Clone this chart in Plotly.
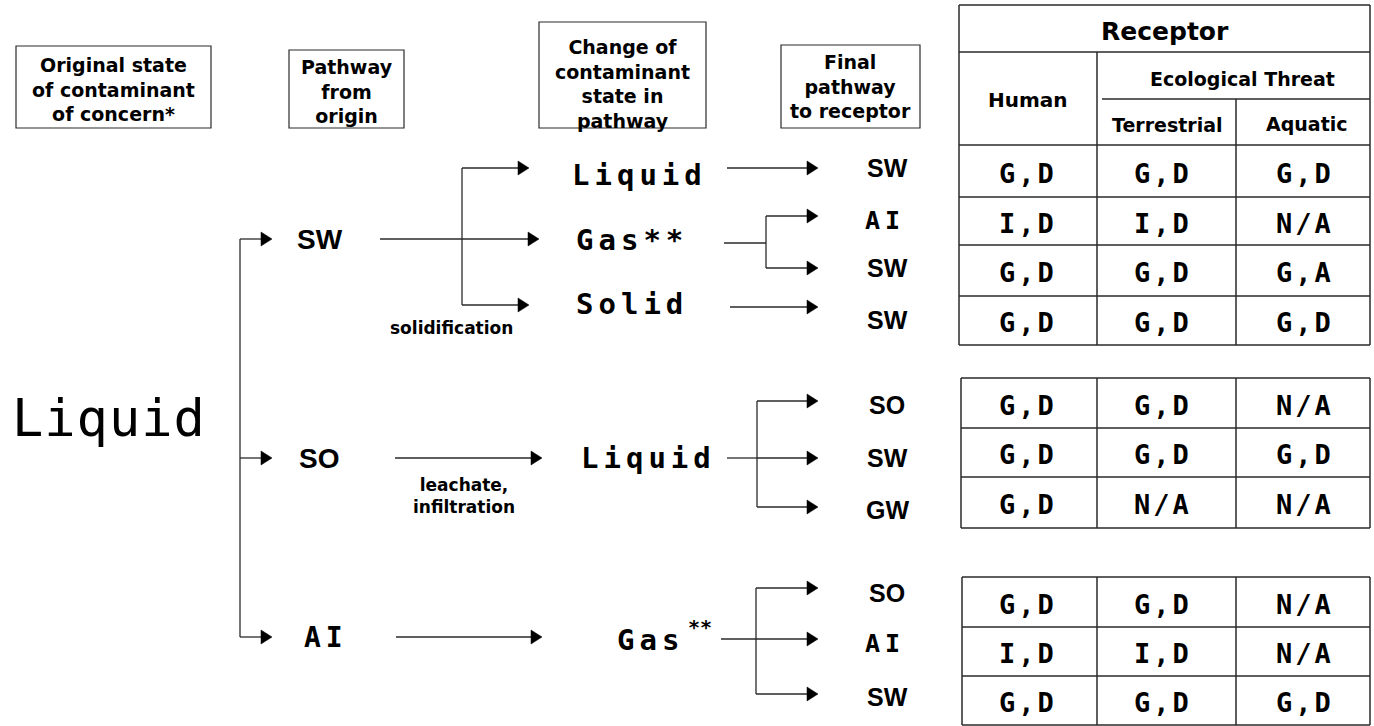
import plotly.graph_objects as go

# ---------------- data ----------------
ORIGIN_STATE = "Liquid"
PATHWAYS = ["SW", "SO", "AI"]
STATE_CHANGES = [["Liquid", "Gas**", "Solid"], ["Liquid"], ["Gas"]]
STATE_SUPERSCRIPT = [[None, None, None], [None], ["**"]]
FINAL_PATHWAYS = [[["SW"], ["AI", "SW"], ["SW"]], [["SO", "SW", "GW"]], [["SO", "AI", "SW"]]]
PROCESS_NOTES = [["solidification"], ["leachate,", "infiltration"], []]

HEADER_BOXES = [
    ["Original state", "of contaminant", "of concern*"],
    ["Pathway", "from", "origin"],
    ["Change of", "contaminant", "state in", "pathway"],
    ["Final", "pathway", "to receptor"],
]
RECEPTOR_TITLE = "Receptor"
RECEPTOR_HUMAN = "Human"
RECEPTOR_ECO = "Ecological Threat"
RECEPTOR_SUB = ["Terrestrial", "Aquatic"]

HUMAN = ["G,D", "I,D", "G,D", "G,D", "G,D", "G,D", "G,D", "G,D", "I,D", "G,D"]
TERRESTRIAL = ["G,D", "I,D", "G,D", "G,D", "G,D", "G,D", "N/A", "G,D", "I,D", "G,D"]
AQUATIC = ["G,D", "N/A", "G,A", "G,D", "N/A", "G,D", "N/A", "N/A", "N/A", "G,D"]

# ---------------- layout geometry (pixels) ----------------
W, H = 1374, 726
LC = "#2a2a2a"
LW = 1.3
MONO = "DejaVu Sans Mono"
HEAVY = "DejaVu Sans"
SANS = "Liberation Sans"

BOX_RECTS = [(16, 211, 46, 128), (289, 404, 50, 128), (539, 706, 22, 128), (781, 920, 45, 128)]
BOX_TEXT_Y = [89, 91, 84, 86]

ROOT_XY = (109, 418)
TRUNK_X = 240
PW_TIP = 272
PW_Y = [239, 458, 637]
PW_LABEL_X = [320, 319, 326]

# stage 2 geometry per pathway
S2_LINE = [(380, 539), (395, 542), (396, 542)]
S2_BRANCH_X = 462
S2_BRANCH_Y = [168, 305]
S2_BRANCH_TIP = 529
S2_LABEL_XY = [[(639, 175), (632, 240), (632, 304)], [(648, 458)], [(650, 640)]]
SUP_OFFSET = (50, -13)
NOTE_XY = [(451, 328), (464, 496), None]

# stage 3 geometry: (start x, y, fork x or None, target ys)
S3 = [
    [(727, 168, None, [168]), (724, 243, 766, [216, 268]), (730, 307, None, [307])],
    [(727, 458, 757, [401, 458, 507])],
    [(721, 639, 756, [588, 639, 694])],
]
S3_TIP = 818
FINAL_LABEL_X = 887
FINAL_LABEL_Y = [[[168], [220, 268], [320]], [[405, 458, 510]], [[593, 643, 697]]]

COL_X = [959, 1097, 1236, 1370]
COL_CX = [1028, 1163, 1305]
T1_TOP, T1_REC, T1_ECO, T1_HDR = 5, 52, 99, 145
TABLE_ROW_LINES = [[145, 197, 245, 296, 345], [378, 428, 477, 528], [577, 627, 676, 725]]
TABLE_LEFT = [959, 961, 962]

shapes = []
annotations = []


def line(x0, y0, x1, y1, w=LW, color=LC):
    shapes.append(dict(type="line", xref="x", yref="y", x0=x0, y0=y0, x1=x1, y1=y1,
                       line=dict(color=color, width=w)))


def arrow(x0, x1, y):
    line(x0, y, x1 - 9, y)
    path = f"M {x1-11},{y-7} L {x1},{y} L {x1-11},{y+7} Z"
    shapes.append(dict(type="path", xref="x", yref="y", path=path,
                       fillcolor="black", line=dict(color="black", width=0.5)))


def txt(x, y, s, size, family, spacing=None, bold=False, color="black"):
    t = s
    if bold:
        t = f"<b>{t}</b>"
    if spacing:
        t = f'<span style="letter-spacing:{spacing}px">{t}</span>'
    annotations.append(dict(x=x, y=y, xref="x", yref="y", text=t, showarrow=False,
                            xanchor="center", yanchor="middle", borderpad=0,
                            font=dict(size=size, family=family, color=color)))


# header boxes
for (x0, x1, y0, y1), lines, ty in zip(BOX_RECTS, HEADER_BOXES, BOX_TEXT_Y):
    shapes.append(dict(type="rect", xref="x", yref="y", x0=x0, x1=x1, y0=y0, y1=y1,
                       line=dict(color=LC, width=1.2)))
    txt((x0 + x1) / 2, ty, "<br>".join(lines), 19, HEAVY, bold=True)

# root
txt(ROOT_XY[0], ROOT_XY[1], ORIGIN_STATE, 52, MONO, spacing=1)
line(TRUNK_X, PW_Y[0], TRUNK_X, PW_Y[-1])
for i, pw in enumerate(PATHWAYS):
    arrow(TRUNK_X, PW_TIP, PW_Y[i])
    if pw == "AI":
        txt(PW_LABEL_X[i], PW_Y[i], pw, 28, MONO, spacing=5, bold=True)
    else:
        txt(PW_LABEL_X[i], PW_Y[i], pw, 28, SANS, bold=True)

    # stage 2
    x0, x1 = S2_LINE[i]
    arrow(x0, x1, PW_Y[i])
    if len(STATE_CHANGES[i]) > 1:
        line(S2_BRANCH_X, S2_BRANCH_Y[0], S2_BRANCH_X, S2_BRANCH_Y[1])
        for by in S2_BRANCH_Y:
            arrow(S2_BRANCH_X, S2_BRANCH_TIP, by)
    for s, sup, (lx, ly) in zip(STATE_CHANGES[i], STATE_SUPERSCRIPT[i], S2_LABEL_XY[i]):
        txt(lx, ly, s, 29, MONO, spacing=5, bold=True)
        if sup:
            txt(lx + SUP_OFFSET[0], ly + SUP_OFFSET[1], sup, 20, MONO, bold=True)
    if PROCESS_NOTES[i] and NOTE_XY[i]:
        txt(NOTE_XY[i][0], NOTE_XY[i][1], "<br>".join(PROCESS_NOTES[i]), 17, HEAVY, bold=True)

    # stage 3
    for j, (sx, sy, fx, tys) in enumerate(S3[i]):
        if fx is None:
            arrow(sx, S3_TIP, sy)
        else:
            line(sx, sy, fx, sy)
            line(fx, min(tys), fx, max(tys))
            for ty in tys:
                arrow(fx, S3_TIP, ty)
        for s, ly in zip(FINAL_PATHWAYS[i][j], FINAL_LABEL_Y[i][j]):
            if s == "AI":
                txt(FINAL_LABEL_X - 2, ly, s, 25, MONO, spacing=5, bold=True)
            else:
                txt(FINAL_LABEL_X, ly, s, 25, SANS, bold=True)

# receptor table header
TW = 1.5
line(COL_X[0], T1_TOP, COL_X[3], T1_TOP, TW)
line(COL_X[0], T1_REC, COL_X[3], T1_REC, TW)
line(1102, T1_ECO, COL_X[3], T1_ECO, TW)
line(COL_X[0], T1_TOP, COL_X[0], T1_HDR, TW)
line(COL_X[3], T1_TOP, COL_X[3], T1_HDR, TW)
line(COL_X[1], T1_REC, COL_X[1], T1_HDR, TW)
line(COL_X[2], T1_ECO, COL_X[2], T1_HDR, TW)
txt((COL_X[0] + COL_X[3]) / 2, 31, RECEPTOR_TITLE, 25, HEAVY, bold=True)
txt(COL_CX[0], 100, RECEPTOR_HUMAN, 20, HEAVY, bold=True)
txt(1242, 79, RECEPTOR_ECO, 19, HEAVY, bold=True)
txt(1167, 125, RECEPTOR_SUB[0], 19, HEAVY, bold=True)
txt(1307, 124, RECEPTOR_SUB[1], 19, HEAVY, bold=True)

# receptor table bodies
cols = [HUMAN, TERRESTRIAL, AQUATIC]
k = 0
for t, rows in enumerate(TABLE_ROW_LINES):
    left = TABLE_LEFT[t]
    for ry in rows:
        line(left, ry, COL_X[3], ry, TW)
    for cx in [left, COL_X[1], COL_X[2], COL_X[3]]:
        line(cx, rows[0], cx, rows[-1], TW)
    for r in range(len(rows) - 1):
        cy = (rows[r] + rows[r + 1]) / 2 + 2
        for c in range(3):
            txt(COL_CX[c], cy, cols[c][k], 27, MONO, spacing=3, bold=True)
        k += 1

fig = go.Figure()
fig.update_layout(
    width=W, height=H, margin=dict(l=0, r=0, t=0, b=0),
    paper_bgcolor="white", plot_bgcolor="white",
    xaxis=dict(range=[0, W], visible=False, fixedrange=True),
    yaxis=dict(range=[H, 0], visible=False, fixedrange=True),
    shapes=shapes, annotations=annotations, showlegend=False,
)
fig.write_html("out.html", config={"displayModeBar": False},
               post_script="document.body.style.margin='0';document.body.style.overflow='hidden';")
